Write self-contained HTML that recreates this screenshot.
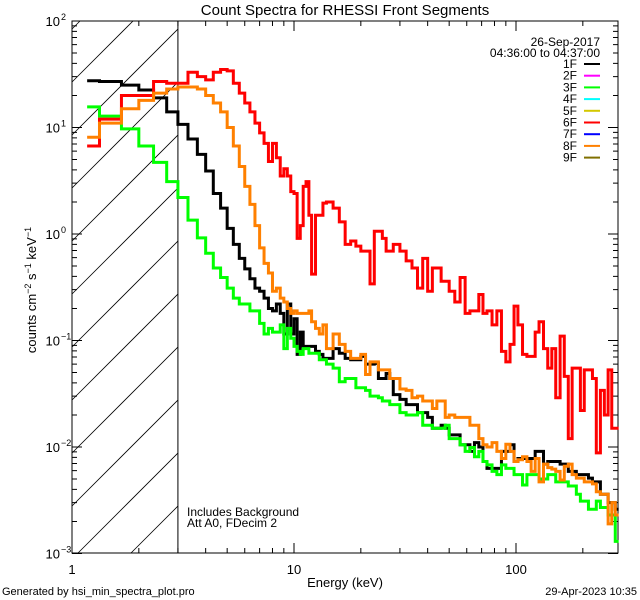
<!DOCTYPE html>
<html><head><meta charset="utf-8"><style>
html,body{margin:0;padding:0;background:#fff;}
svg{display:block;font-family:"Liberation Sans",sans-serif;}
</style></head><body>
<svg id="chart" width="640" height="600" viewBox="0 0 640 600" xmlns="http://www.w3.org/2000/svg">
<rect x="0" y="0" width="640" height="600" fill="#fff"/>
<text x="345" y="15" font-size="15" text-anchor="middle">Count Spectra for RHESSI Front Segments</text>
<g id="hatch"></g>
<g id="axes"></g>
<g id="series"></g>
<g id="legend">
<text x="600" y="46" font-size="12" text-anchor="end">26-Sep-2017</text>
<text x="600" y="57" font-size="12" text-anchor="end">04:36:00 to 04:37:00</text>
</g>
<text x="187" y="516" font-size="12">Includes Background</text>
<text x="187" y="527" font-size="12">Att A0, FDecim 2</text>
<text x="345" y="587" font-size="13" text-anchor="middle">Energy (keV)</text>
<text transform="translate(36,290) rotate(-90)" font-size="13" text-anchor="middle">counts cm<tspan font-size="9" dy="-5">−2</tspan><tspan dy="5"> s</tspan><tspan font-size="9" dy="-5">−1</tspan><tspan dy="5"> keV</tspan><tspan font-size="9" dy="-5">−1</tspan></text>
<text x="2" y="595" font-size="11">Generated by hsi_min_spectra_plot.pro</text>
<text x="637" y="595" font-size="11" text-anchor="end">29-Apr-2023 10:35</text>
</svg>
<script>
const edges=[1.17,1.33,1.67,2,2.33,2.67,3,3.33,3.67,4,4.33,4.67,5,5.33,5.67,6,6.33,6.67,7,7.33,7.67,8,8.33,8.67,9,9.33,9.67,10,10.33,10.67,11,11.33,11.67,12,12.5,13,13.5,14,15,16,17,18,19,20,21,22,23,24,25,26,27,28,30,32,34,36,38,40,42,44,46,48,50,53,56,59,62,65,68,71,74,78,82,86,90,94,98,102,107,112,117,122,127,133,139,145,151,158,165,172,179,187,195,203,212,221,230,240,250,260,270,280,290];
const seg1F=[27.5,27,25,22.5,19,14,10.7,7.8,5.6,3.9,2.4,1.75,1.13,0.80,0.59,0.47,0.38,0.31,0.29,0.25,0.20,0.19,0.22,0.18,0.115,0.22,0.115,0.16,0.074,0.12,0.088,0.088,0.088,0.088,0.079,0.074,0.068,0.068,0.084,0.076,0.068,0.066,0.066,0.071,0.060,0.060,0.061,0.044,0.044,0.049,0.044,0.031,0.028,0.025,0.025,0.021,0.021,0.019,0.015,0.015,0.016,0.015,0.013,0.013,0.0105,0.0105,0.0091,0.011,0.010,0.0073,0.0063,0.0063,0.0063,0.0091,0.0091,0.0105,0.0073,0.0078,0.0078,0.0078,0.0078,0.0091,0.0091,0.0069,0.0073,0.0073,0.0073,0.0069,0.0069,0.0059,0.0059,0.0055,0.0055,0.0055,0.0051,0.0047,0.0047,0.0036,0.0036,0.0030,0.0030,0.0026];
const seg3F=[15.6,12.8,9.7,6.7,4.7,3.1,2.2,1.35,0.92,0.66,0.48,0.39,0.31,0.25,0.22,0.22,0.19,0.19,0.145,0.115,0.13,0.12,0.12,0.14,0.084,0.13,0.105,0.088,0.079,0.074,0.084,0.084,0.076,0.076,0.076,0.066,0.066,0.060,0.055,0.041,0.044,0.044,0.036,0.036,0.034,0.030,0.030,0.029,0.027,0.027,0.025,0.025,0.021,0.020,0.020,0.021,0.016,0.016,0.015,0.015,0.015,0.016,0.012,0.012,0.0105,0.0091,0.0099,0.0081,0.0091,0.0073,0.0068,0.0059,0.0055,0.0068,0.0063,0.0063,0.0055,0.0055,0.0044,0.0055,0.0055,0.0055,0.0050,0.0050,0.0055,0.0055,0.0047,0.0047,0.0047,0.0043,0.0043,0.0036,0.0031,0.0031,0.0026,0.0026,0.0031,0.0027,0.0027,0.0023,0.0023,0.0013];
const seg6F=[6.7,12,20,20,27,26,26,33,30,28,33,35,34,26,21,17,14,11,8.9,7.1,4.8,7.1,5.2,3.5,4.1,3.5,2.5,2.4,0.91,1.2,2.8,3.1,1.5,0.42,1.5,1.5,1.95,2.0,1.75,1.3,0.80,0.86,0.77,0.69,0.69,0.34,1.06,1.06,0.91,0.69,0.69,0.80,0.69,0.56,0.48,0.31,0.59,0.29,0.48,0.48,0.36,0.36,0.29,0.23,0.39,0.18,0.19,0.19,0.27,0.18,0.19,0.14,0.19,0.079,0.063,0.092,0.21,0.14,0.074,0.071,0.071,0.12,0.15,0.084,0.055,0.084,0.029,0.11,0.046,0.012,0.055,0.055,0.022,0.053,0.053,0.044,0.0088,0.034,0.020,0.053,0.015,0.015];
const seg8F=[8.1,11,15,18,21,23,24,24,23,20,17,14,10,6.7,4.3,2.8,1.9,1.2,0.74,0.53,0.43,0.29,0.31,0.25,0.23,0.20,0.18,0.19,0.18,0.18,0.18,0.18,0.19,0.15,0.13,0.115,0.14,0.084,0.115,0.092,0.079,0.068,0.068,0.074,0.048,0.063,0.063,0.053,0.053,0.053,0.044,0.044,0.035,0.034,0.029,0.030,0.027,0.027,0.023,0.027,0.027,0.019,0.020,0.019,0.019,0.019,0.016,0.016,0.012,0.0105,0.010,0.011,0.0091,0.0078,0.0106,0.0091,0.0073,0.0076,0.0081,0.0073,0.0059,0.0078,0.0047,0.0069,0.0064,0.0062,0.0059,0.0049,0.0066,0.0069,0.0055,0.0051,0.0051,0.0047,0.0047,0.0045,0.0038,0.0036,0.0036,0.0019,0.0030,0.0023];
const legendLabels=["1F","2F","3F","4F","5F","6F","7F","8F","9F"];
const legendColors=["#000000","#ff00ff","#00ff00","#00ffff","#d4c800","#ff0000","#0000ff","#ff8000","#807000"];
const xTickMajor=[1,10,100];
const yTickExp=[-3,-2,-1,0,1,2];

const NS="http://www.w3.org/2000/svg";
const X0=72,X1=618,Y0=21,Y1=553,DEC_X=222,DEC_Y=106.5;
const xs=e=>X0+DEC_X*Math.log10(e);
const ys=v=>Y0+DEC_Y*(2-Math.log10(v));
function mk(tag,attrs,parent){const el=document.createElementNS(NS,tag);for(const k in attrs)el.setAttribute(k,attrs[k]);parent.appendChild(el);return el;}

const hatch=document.getElementById('hatch');
const xh=xs(3);
let hd="";
for(let k=-4;k<12;k++){
  const c=82+53*k;
  let xa=X0,ya=c,xb=xh,yb=c-(xh-X0);
  if(ya>Y1){xa=X0+(ya-Y1);ya=Y1;}
  if(yb<Y0){xb=X0+(c-Y0);yb=Y0;}
  if(xa>=xb) continue;
  hd+=`M${xa},${ya}L${xb},${yb}`;
}
const hp=mk('path',{d:hd,stroke:'#000','stroke-width':0.8,fill:'none'},hatch);


const vl=mk('line',{x1:xh,y1:Y0,x2:xh,y2:Y1,stroke:'#000','stroke-width':1},hatch);



const axes=document.getElementById('axes');
const frame=mk('rect',{x:X0,y:Y0,width:X1-X0,height:Y1-Y0,fill:'none',stroke:'#000','stroke-width':1},axes);


let td="";
for(const m of xTickMajor){
  for(let j=1;j<10;j++){
    const e=m*j; if(e>290)break;
    const x=xs(e); const L=j===1?10:5;
    td+=`M${x},${Y1}V${Y1-L}M${x},${Y0}V${Y0+L}`;
  }
}
for(const p of yTickExp){
  for(let j=1;j<10;j++){
    const v=Math.pow(10,p)*j; if(p===2&&j>1)break;
    const y=ys(v); const L=j===1?10:5;
    td+=`M${X0},${y}H${X0+L}M${X1},${y}H${X1-L}`;
  }
}
const ticks=mk('path',{d:td,stroke:'#000','stroke-width':1,fill:'none'},axes);


for(const m of xTickMajor){
  const t=mk('text',{x:xs(m),y:574,'font-size':13,'text-anchor':'middle'},axes);
  t.textContent=String(m);
  
  
}
for(const p of yTickExp){
  const t=mk('text',{x:X0-12,y:ys(Math.pow(10,p))+5,'font-size':13,'text-anchor':'end'},axes);
  t.textContent='10';
  
  
  const s=mk('text',{x:X0-11,y:ys(Math.pow(10,p))-1,'font-size':9},axes);
  s.textContent=p<0?'−'+(-p):String(p);
  
  
}

const sg=document.getElementById('series');
function stepPath(vals){
  let d=`M${xs(edges[0])},${ys(vals[0])}`;
  for(let i=0;i<vals.length;i++){
    if(i>0)d+=`V${ys(vals[i])}`;
    d+=`H${xs(edges[i+1])}`;
  }
  return d;
}
const order=[[seg1F,0,'series-1f'],[seg3F,2,'series-3f'],[seg6F,5,'series-6f'],[seg8F,7,'series-8f']];
for(const [vals,ci,name] of order){
  const p=mk('path',{d:stepPath(vals),stroke:legendColors[ci],'stroke-width':3,fill:'none','stroke-linejoin':'miter'},sg);
  
  
}

const lg=document.getElementById('legend');
for(let i=0;i<legendLabels.length;i++){
  const y=68+11.7*i;
  const t=mk('text',{x:577,y:y,'font-size':12,'text-anchor':'end'},lg);
  t.textContent=legendLabels[i];
  
  
  const l=mk('line',{x1:584,y1:y-4,x2:600,y2:y-4,stroke:legendColors[i],'stroke-width':2},lg);
  
  
}
</script>
</body></html>
